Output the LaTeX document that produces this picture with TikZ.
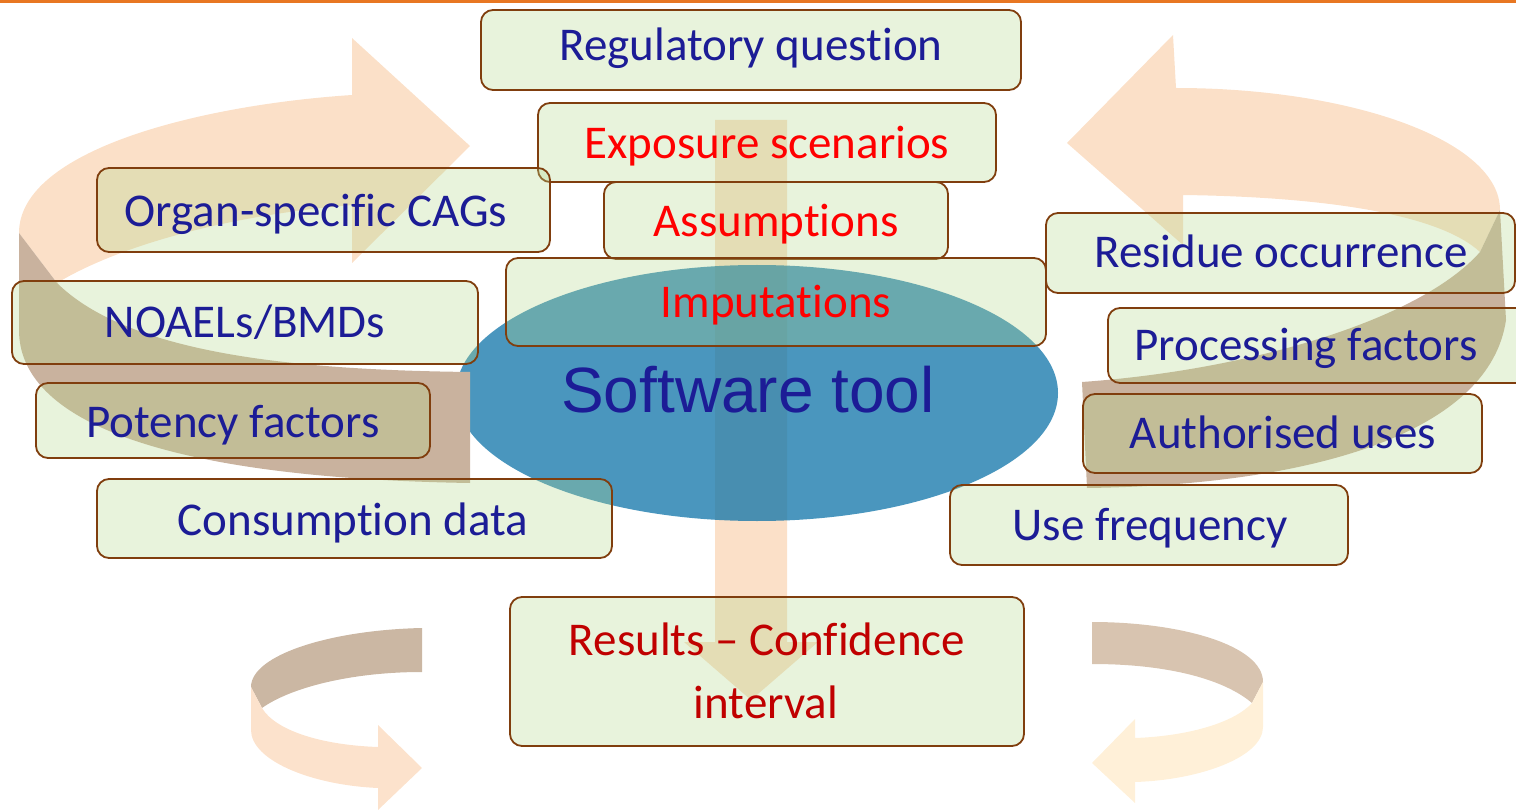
\documentclass[tikz,border=0pt]{standalone}
\usepackage{fontspec}
\setmainfont{Carlito}[RawFeature={-liga;-clig;-calt;-dlig;-rlig}]
\newfontfamily\arialfont{Liberation Sans}
\usetikzlibrary{shapes.geometric}
% keep t and i as separate glyphs
\newcommand{\tsep}{\kern0pt }

\definecolor{topline}{RGB}{232,119,34}
\definecolor{boxline}{RGB}{128,62,14}
\definecolor{boxfill}{RGB}{178,215,138}
\definecolor{navytext}{RGB}{28,28,150}
\definecolor{redtext}{RGB}{255,0,0}
\definecolor{darkred}{RGB}{192,0,0}
\definecolor{toolblue}{RGB}{13,115,168}
\definecolor{arrpeach}{RGB}{251,224,200}
\definecolor{arrbrown}{RGB}{201,178,158}
\definecolor{speachL}{RGB}{252,226,204}
\definecolor{sbrownL}{RGB}{203,183,163}
\definecolor{speachR}{RGB}{255,240,216}
\definecolor{sbrownR}{RGB}{216,196,176}

\begin{document}
\begin{tikzpicture}[x=1pt,y=-1pt,
  infobox/.style={draw=boxline, line width=1.8pt, rounded corners=12pt,
    fill=boxfill, fill opacity=0.3, inner sep=0pt},
  lbl/.style={anchor=base, inner sep=0pt, text=navytext,
    font=\fontsize{47}{56}\selectfont},
  redlbl/.style={lbl, text=redtext},
  reslbl/.style={lbl, text=darkred}]

\clip (0,0) rectangle (1516,810);
\useasboundingbox (0,0) rectangle (1516,810);

% orange rule along the top edge
\fill[topline] (0,0) rectangle (1516,3);

% downward flow arrow through the centre
\fill[arrpeach] (715,120) -- (787,120) -- (787,642) -- (818,642) -- (751,700)
  -- (684,642) -- (715,642) -- cycle;

% central ellipse
\node[ellipse, fill=toolblue, fill opacity=0.75, inner sep=0pt,
  minimum width=602pt, minimum height=256pt] (tool) at (757,393) {};

% large circular arrow, left
\fill[arrpeach] (19,233) .. controls (19,150) and (200,105) .. (352,95)
  -- (352,38) -- (470,146) -- (352,263) -- (352,205)
  .. controls (230,215) and (120,245) .. (57,283) -- cycle;
\fill[arrbrown] (19,233) -- (19,330) .. controls (19,420) and (160,478) .. (470,483)
  -- (470,372) .. controls (300,370) and (130,355) .. (57,283) -- cycle;

% large circular arrow, right
\fill[arrpeach] (1176,88) .. controls (1350,88) and (1500,140) .. (1500,210)
  -- (1480,252) .. controls (1440,215) and (1330,197) .. (1183,195)
  -- (1183,245) -- (1067,143) -- (1173,35) -- cycle;
\fill[arrbrown] (1500,210) -- (1506,320) .. controls (1490,430) and (1320,485) .. (1087,488)
  -- (1082,382) .. controls (1250,370) and (1420,320) .. (1480,252) -- cycle;

% small circular arrow, bottom left
\fill[sbrownL] (422,628) .. controls (330,630) and (251,655) .. (251,687)
  -- (262,708) .. controls (290,688) and (350,672) .. (422,672) -- cycle;
\fill[speachL] (251,687) -- (251,730) .. controls (251,760) and (310,785) .. (378,788)
  -- (378,810) -- (422,768) -- (378,725) -- (378,747)
  .. controls (320,745) and (275,730) .. (262,708) -- cycle;

% small circular arrow, bottom right
\fill[sbrownR] (1092,622) .. controls (1180,622) and (1263,645) .. (1263,682)
  -- (1252,703) .. controls (1225,680) and (1170,664) .. (1092,664) -- cycle;
\fill[speachR] (1263,682) -- (1263,727) .. controls (1263,757) and (1200,780) .. (1135,782)
  -- (1135,803) -- (1092,763) -- (1135,719) -- (1135,738)
  .. controls (1190,736) and (1235,722) .. (1252,703) -- cycle;

% boxes
\node[infobox, minimum width=540pt, minimum height=80pt] (reg)     at (751,50)      {};
\node[infobox, minimum width=458pt, minimum height=79pt] (expo)    at (767,142.5)   {};
\node[infobox, minimum width=344pt, minimum height=77pt] (assum)   at (776,220.5)   {};
\node[infobox, minimum width=540pt, minimum height=88pt] (imput)   at (776,302)     {};
\node[infobox, minimum width=453pt, minimum height=84pt] (cags)    at (323.5,210)   {};
\node[infobox, minimum width=466pt, minimum height=83pt] (noael)   at (245,322.5)   {};
\node[infobox, minimum width=394pt, minimum height=75pt] (potency) at (233,420.5)   {};
\node[infobox, minimum width=515pt, minimum height=79pt] (consum)  at (354.5,518.5) {};
\node[infobox, minimum width=469pt, minimum height=80pt] (residue) at (1280.5,253)  {};
\node[infobox, minimum width=432pt, minimum height=75pt] (process) at (1324,345.5)  {};
\node[infobox, minimum width=399pt, minimum height=79pt] (auth)    at (1282.5,433.5){};
\node[infobox, minimum width=398pt, minimum height=80pt] (usefreq) at (1149,525)    {};
\node[infobox, minimum width=514pt, minimum height=149pt] (results) at (767,671.5)  {};

% labels
\node[lbl]    (regT)     at (751,61)   {Regulatory quest\tsep ion};
\node[redlbl] (expoT)    at (767,159)  {Exposure scenarios};
\node[redlbl] (assumT)   at (776,237)  {Assumpt\tsep ions};
\node[redlbl] (imputT)   at (776,318)  {Imputat\tsep ions};
\node[lbl]    (cagsT)    at (316,227)  {Organ-specif\tsep ic CAGs};
\node[lbl]    (noaelT)   at (245,338)  {NOAELs/BMDs};
\node[lbl]    (potencyT) at (233,437)  {Potency factors};
\node[lbl]    (consumT)  at (353,535)  {Consumpt\tsep ion data};
\node[lbl]    (residueT) at (1281,268) {Residue occurrence};
\node[lbl]    (processT) at (1306,361) {Processing factors};
\node[lbl]    (authT)    at (1283,448) {Authorised uses};
\node[lbl]    (usefreqT) at (1150,540) {Use frequency};
\node[reslbl] (resT1)    at (767,655)  {Results – Conf\tsep idence};
\node[reslbl] (resT2)    at (766,718)  {interval};
\node[lbl, font=\arialfont\fontsize{64}{77}\selectfont] (toolT) at (748,412) {Software tool};

\end{tikzpicture}
\end{document}
